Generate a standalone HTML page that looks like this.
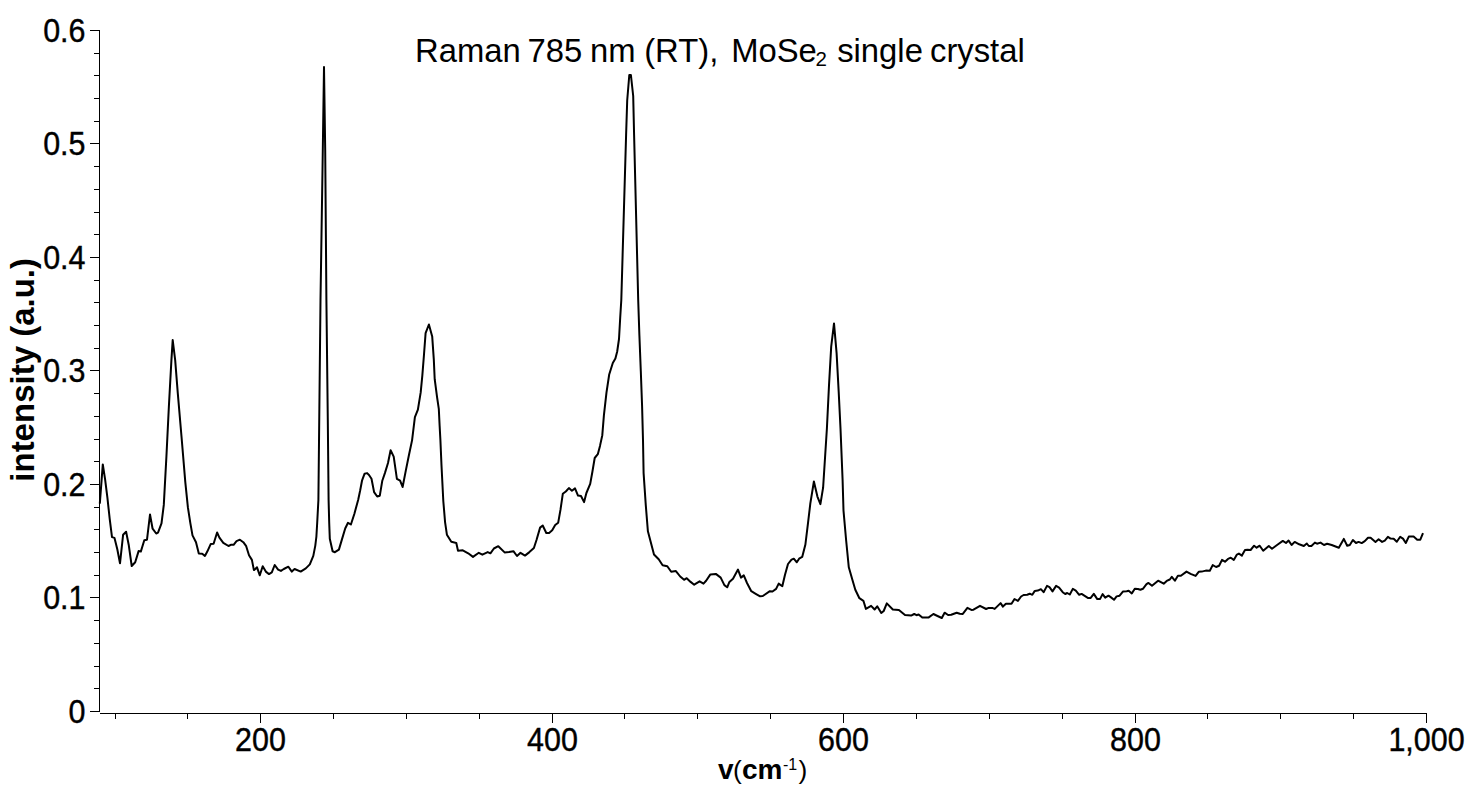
<!DOCTYPE html>
<html><head><meta charset="utf-8"><style>
html,body{margin:0;padding:0;background:#fff;}
body{width:1474px;height:789px;overflow:hidden;}
svg{display:block;font-family:"Liberation Sans",sans-serif;}
.ax path{stroke:#000;stroke-width:1;fill:none;shape-rendering:crispEdges;}
</style></head><body>
<svg width="1474" height="789" viewBox="0 0 1474 789">
<rect width="1474" height="789" fill="#fff"/>
<g class="ax">
<path d="M99.5,30 V712" />
<path d="M90,711.5 H100" />
<path d="M94,688.5 H100" />
<path d="M94,666.5 H100" />
<path d="M94,643.5 H100" />
<path d="M94,620.5 H100" />
<path d="M90,597.5 H100" />
<path d="M94,575.5 H100" />
<path d="M94,552.5 H100" />
<path d="M94,529.5 H100" />
<path d="M94,507.5 H100" />
<path d="M90,484.5 H100" />
<path d="M94,461.5 H100" />
<path d="M94,439.5 H100" />
<path d="M94,416.5 H100" />
<path d="M94,393.5 H100" />
<path d="M90,370.5 H100" />
<path d="M94,348.5 H100" />
<path d="M94,325.5 H100" />
<path d="M94,302.5 H100" />
<path d="M94,280.5 H100" />
<path d="M90,257.5 H100" />
<path d="M94,234.5 H100" />
<path d="M94,212.5 H100" />
<path d="M94,189.5 H100" />
<path d="M94,166.5 H100" />
<path d="M90,143.5 H100" />
<path d="M94,121.5 H100" />
<path d="M94,98.5 H100" />
<path d="M94,75.5 H100" />
<path d="M94,53.5 H100" />
<path d="M90,30.5 H100" />
<path d="M100,713.5 H1427" />
<path d="M115.5,714 V719" />
<path d="M187.5,714 V719" />
<path d="M260.5,714 V723" />
<path d="M333.5,714 V719" />
<path d="M406.5,714 V719" />
<path d="M479.5,714 V719" />
<path d="M552.5,714 V723" />
<path d="M624.5,714 V719" />
<path d="M697.5,714 V719" />
<path d="M770.5,714 V719" />
<path d="M843.5,714 V723" />
<path d="M916.5,714 V719" />
<path d="M989.5,714 V719" />
<path d="M1062.5,714 V719" />
<path d="M1135.5,714 V723" />
<path d="M1207.5,714 V719" />
<path d="M1280.5,714 V719" />
<path d="M1353.5,714 V719" />
<path d="M1426.5,714 V723" />
</g>
<g font-size="32.4" fill="#000" stroke="#000" stroke-width="0.4">
<text transform="translate(85.5,723) scale(0.94,1)" text-anchor="end">0</text>
<text transform="translate(85.5,609) scale(0.94,1)" text-anchor="end">0.1</text>
<text transform="translate(85.5,496) scale(0.94,1)" text-anchor="end">0.2</text>
<text transform="translate(85.5,382) scale(0.94,1)" text-anchor="end">0.3</text>
<text transform="translate(85.5,269) scale(0.94,1)" text-anchor="end">0.4</text>
<text transform="translate(85.5,155) scale(0.94,1)" text-anchor="end">0.5</text>
<text transform="translate(85.5,42) scale(0.94,1)" text-anchor="end">0.6</text>
<text transform="translate(260.5,751) scale(0.94,1)" text-anchor="middle">200</text>
<text transform="translate(552.5,751) scale(0.94,1)" text-anchor="middle">400</text>
<text transform="translate(843.5,751) scale(0.94,1)" text-anchor="middle">600</text>
<text transform="translate(1135.5,751) scale(0.94,1)" text-anchor="middle">800</text>
<text transform="translate(1426.5,751) scale(0.94,1)" text-anchor="middle">1,000</text>
</g>
<g fill="#000"><text x="415.00" y="62" font-size="32.8">Raman</text><text x="527.60" y="62" font-size="32.8">785</text><text x="590.00" y="62" font-size="32.8">nm</text><text x="644.20" y="62" font-size="32.8">(RT),</text><text x="731.20" y="62" font-size="32.8">MoSe</text><text x="815.40" y="65.8" font-size="20.5">2</text><text x="837.20" y="62" font-size="32.8">single</text><text x="930.00" y="62" font-size="32.8">crystal</text></g>
<text transform="translate(34,481.7) rotate(-90)" font-size="33" font-weight="bold" fill="#000">intensity (a.u.)</text>
<g fill="#000">
<text x="718" y="779" font-size="28" font-weight="bold">v</text>
<text x="733" y="779" font-size="26.4">(</text>
<text x="742" y="779" font-size="28" font-weight="bold">cm</text>
<text x="783" y="770" font-size="16">-1</text>
<text x="798.5" y="779" font-size="26.4">)</text>
</g>
<path d="M99.8,503.7 L102.8,464.4 L105.1,479.3 L107.4,497.6 L109.7,518.9 L112.0,537.1 L114.5,537.9 L117.3,549.3 L120.0,563.3 L123.1,534.8 L126.1,531.8 L128.7,544.7 L131.7,566.0 L135.2,562.2 L138.6,551.1 L140.8,551.6 L144.3,540.2 L147.0,539.7 L150.0,514.5 L152.6,528.7 L156.2,533.5 L158.0,532.6 L161.5,523.4 L163.8,504.9 L166.4,456.7 L168.9,406.0 L171.4,360.4 L172.7,340.1 L175.2,360.4 L177.8,393.4 L181.5,436.5 L185.3,482.1 L187.9,507.4 L190.3,522.8 L192.5,535.4 L196.0,542.2 L198.8,553.6 L202.2,553.8 L204.9,555.9 L207.4,551.3 L210.8,543.9 L213.6,543.7 L217.1,532.5 L219.4,537.6 L223.3,542.8 L228.5,546.0 L230.8,544.8 L233.6,544.8 L236.5,541.1 L239.9,539.7 L243.3,542.2 L246.2,546.2 L249.0,555.3 L251.9,559.9 L253.9,570.1 L255.3,569.0 L257.0,567.3 L259.8,575.3 L262.7,566.2 L266.1,571.9 L269.0,574.1 L271.8,572.4 L274.7,565.0 L278.1,569.6 L280.9,570.9 L283.8,569.0 L288.4,566.7 L291.8,571.6 L294.6,569.0 L300.7,571.6 L305.8,568.4 L309.8,564.4 L313.3,555.9 L315.3,545.6 L316.4,536.5 L317.2,522.8 L318.4,500.0 L320.5,300.0 L322.5,170.0 L324.0,67.0 L325.2,150.0 L326.4,300.0 L327.8,420.0 L328.6,500.0 L329.2,522.8 L329.8,538.8 L332.6,551.3 L334.9,552.2 L338.9,549.6 L341.8,539.9 L345.2,528.5 L348.0,522.8 L350.9,524.5 L354.4,513.7 L358.2,499.7 L360.1,490.8 L362.0,480.7 L364.6,473.7 L367.1,473.1 L369.0,475.0 L371.5,478.8 L374.1,492.1 L377.2,496.5 L379.8,495.7 L382.3,480.7 L384.9,473.1 L388.0,463.0 L390.6,450.3 L393.7,456.6 L396.9,478.8 L400.1,480.7 L402.6,487.0 L405.8,470.6 L408.9,455.3 L412.1,440.1 L414.9,417.1 L417.9,409.7 L420.7,392.4 L422.3,375.9 L424.0,354.5 L425.6,333.1 L428.9,324.5 L432.2,336.4 L433.8,359.4 L434.7,379.2 L437.1,397.3 L438.8,408.8 L439.6,425.3 L440.4,440.0 L441.5,465.5 L443.3,501.0 L445.1,522.3 L446.9,534.7 L451.3,541.8 L456.3,543.0 L458.0,550.7 L462.8,550.3 L468.2,553.3 L473.0,556.9 L478.8,552.8 L482.4,554.7 L487.7,552.1 L490.4,553.3 L493.9,548.5 L498.3,546.2 L504.6,552.4 L509.0,552.1 L513.4,551.2 L517.0,556.0 L520.5,552.8 L525.0,555.6 L529.4,552.1 L533.9,548.0 L536.5,540.0 L540.1,527.6 L542.7,525.5 L546.3,533.0 L549.1,532.9 L552.2,530.3 L555.2,525.0 L558.2,522.7 L560.5,509.7 L562.8,493.8 L565.8,491.5 L568.9,488.1 L571.9,490.7 L575.0,488.4 L578.0,495.6 L581.0,496.0 L584.1,502.1 L586.4,493.0 L590.2,483.9 L592.4,471.7 L594.7,458.0 L597.8,454.2 L600.0,445.9 L602.3,435.2 L603.9,415.3 L606.5,392.3 L609.2,374.5 L612.8,363.0 L615.4,358.6 L617.2,351.5 L619.0,339.0 L620.2,317.7 L621.3,300.0 L626.1,135.0 L627.2,100.5 L629.3,75.0 L630.9,75.0 L633.2,96.0 L634.1,135.0 L638.2,300.0 L639.4,335.5 L640.8,371.0 L642.1,406.5 L643.0,440.0 L643.6,473.1 L645.8,505.4 L647.9,531.3 L654.0,554.5 L658.7,559.3 L662.6,565.3 L667.3,566.2 L671.2,571.8 L675.9,571.1 L680.2,576.5 L684.1,579.8 L686.7,578.2 L690.6,581.9 L694.2,584.7 L699.6,581.3 L703.5,583.6 L706.1,580.8 L710.4,574.4 L715.8,573.9 L720.7,577.6 L724.4,585.1 L727.2,587.3 L729.4,581.9 L733.0,578.7 L738.0,569.6 L741.0,577.6 L743.8,575.4 L747.0,583.0 L751.3,591.2 L755.7,593.8 L760.1,596.3 L762.8,596.0 L769.9,591.2 L772.5,591.5 L776.1,588.9 L778.7,583.6 L782.3,586.2 L785.0,574.7 L788.0,564.0 L791.5,559.6 L793.8,558.7 L796.8,562.3 L799.1,558.7 L802.2,556.9 L805.4,544.5 L808.0,523.2 L810.3,503.7 L813.9,481.5 L817.4,496.6 L820.4,504.1 L823.1,487.7 L826.9,428.5 L829.0,385.4 L831.2,346.6 L834.0,323.4 L836.6,353.1 L838.7,391.9 L840.5,428.5 L842.6,480.0 L843.5,510.6 L846.2,541.0 L848.8,567.3 L852.3,579.5 L855.3,589.7 L859.4,598.2 L863.4,600.8 L865.9,608.9 L871.1,605.9 L874.6,609.5 L877.2,606.3 L881.3,613.0 L883.7,611.0 L886.8,603.4 L892.8,609.5 L898.9,609.9 L905.0,615.0 L911.1,615.6 L914.2,614.0 L916.6,615.2 L918.6,614.4 L922.3,617.6 L928.4,617.6 L933.4,614.0 L937.5,616.0 L941.8,618.0 L944.6,612.7 L948.1,615.0 L951.2,614.8 L956.7,612.7 L959.8,613.7 L962.8,613.9 L967.4,607.9 L971.4,609.9 L973.5,609.7 L980.0,605.8 L986.1,609.0 L988.7,607.9 L992.2,607.9 L994.7,608.9 L1000.6,603.1 L1002.9,606.6 L1005.9,603.8 L1011.5,603.8 L1014.5,599.0 L1017.9,600.9 L1021.1,596.5 L1023.6,595.0 L1027.2,594.7 L1029.7,593.7 L1032.3,594.8 L1034.8,590.9 L1037.8,590.6 L1040.9,589.2 L1043.6,592.2 L1047.0,585.9 L1049.5,587.2 L1052.5,591.4 L1056.1,585.9 L1059.1,587.6 L1062.7,592.2 L1065.2,594.0 L1067.2,593.0 L1069.8,594.5 L1072.8,588.9 L1075.8,590.6 L1079.2,594.8 L1081.6,593.9 L1088.2,598.1 L1090.7,597.9 L1093.8,593.9 L1097.3,599.1 L1100.1,598.9 L1102.6,594.1 L1105.2,597.7 L1108.5,595.7 L1111.0,597.4 L1114.0,599.8 L1116.6,596.4 L1119.6,595.7 L1122.9,591.6 L1126.7,591.3 L1128.7,590.8 L1131.8,593.4 L1134.8,588.8 L1137.9,589.0 L1140.4,589.8 L1142.9,588.8 L1146.5,584.2 L1148.5,582.9 L1152.0,585.8 L1158.1,580.7 L1163.7,583.7 L1166.7,580.9 L1169.8,579.5 L1171.8,576.8 L1174.9,580.7 L1177.9,575.8 L1180.9,575.8 L1186.5,571.6 L1190.6,573.8 L1195.6,575.9 L1198.7,571.8 L1201.7,571.6 L1205.8,570.6 L1209.8,570.8 L1212.7,565.1 L1216.1,567.0 L1219.1,565.8 L1222.0,559.9 L1225.0,561.7 L1228.0,558.9 L1230.8,557.7 L1233.8,559.9 L1236.9,554.6 L1238.9,553.6 L1241.9,555.6 L1245.0,550.0 L1247.5,549.8 L1250.6,550.0 L1254.1,545.7 L1256.6,547.7 L1259.7,545.7 L1263.2,550.8 L1268.8,546.0 L1272.0,548.7 L1277.4,544.7 L1282.8,540.9 L1286.0,543.0 L1288.6,540.6 L1291.6,545.0 L1294.7,541.9 L1299.2,544.3 L1303.8,546.0 L1306.8,543.5 L1308.8,546.0 L1311.4,546.0 L1314.9,542.6 L1317.0,543.7 L1320.5,542.6 L1324.0,545.0 L1327.1,543.8 L1331.7,545.0 L1338.8,547.7 L1343.8,538.9 L1347.2,545.8 L1349.8,545.0 L1352.9,540.0 L1356.0,543.0 L1358.6,541.9 L1361.7,543.1 L1364.8,541.1 L1368.0,537.7 L1370.6,537.7 L1375.5,541.9 L1378.6,539.3 L1382.1,541.9 L1384.8,540.6 L1387.9,536.8 L1390.6,538.6 L1393.7,538.8 L1396.8,541.8 L1400.2,536.8 L1403.0,538.6 L1405.8,543.0 L1408.8,536.6 L1413.6,536.6 L1417.2,539.7 L1420.3,539.7 L1423.0,533.2" fill="none" stroke="#000" stroke-width="2" stroke-linejoin="round" stroke-linecap="butt"/>
</svg>
</body></html>
